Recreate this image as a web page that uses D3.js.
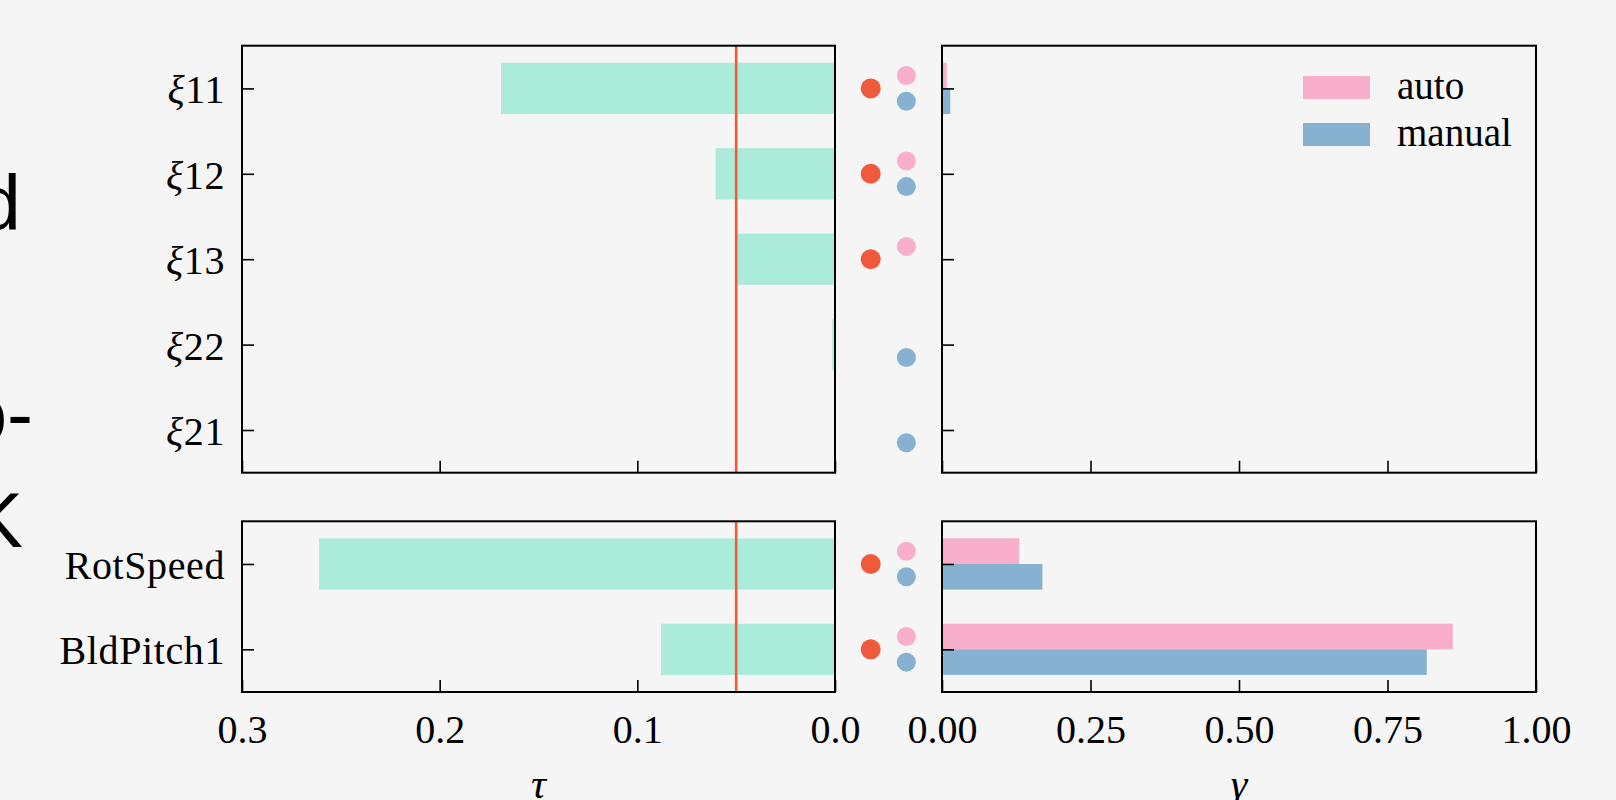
<!DOCTYPE html>
<html>
<head>
<meta charset="utf-8">
<script src="https://d3js.org/d3.v7.min.js"></script>
<style>
    body { margin: 0; background: #f5f5f5; }
    .tick text { font-family: "Liberation Serif", serif; font-size: 40px; fill: #000; }
    .tick line { stroke: #000; stroke-width: 1.6; }
</style>
</head>
<body>
<script>
//chart data
var topCats = ["ξ11", "ξ12", "ξ13", "ξ22", "ξ21"],
    bottomCats = ["RotSpeed", "BldPitch1"];

//tau values (left panels)
var tauTop = [0.169, 0.0604, 0.0505, 0.0014, 0.0005],
    tauBottom = [0.261, 0.088];

//gamma values (right panels)
var autoTop = [0.008, 0, 0, 0, 0],
    manualTop = [0.014, 0, 0, 0, 0],
    autoBottom = [0.130, 0.860],
    manualBottom = [0.169, 0.816];

//which rows get a marker dot
var sigTop = [1, 1, 1, 0, 0],
    sigBottom = [1, 1],
    autoDotTop = [1, 1, 1, 0, 0],
    autoDotBottom = [1, 1],
    manualDotTop = [1, 1, 0, 1, 1],
    manualDotBottom = [1, 1];

var threshold = 0.05;
var tauTicks = [0.3, 0.2, 0.1, 0.0],
    tauTickLabels = ["0.3", "0.2", "0.1", "0.0"],
    gammaTicks = [0, 0.25, 0.5, 0.75, 1],
    gammaTickLabels = ["0.00", "0.25", "0.50", "0.75", "1.00"];
var seriesNames = ["auto", "manual"];

//colours
var teal = "#abebd9", red = "#ef5a3c", pink = "#f9afcb", blue = "#86b1d1";

window.onload = setChart();

function setChart(){
    var width = 1616,
        height = 800;

    var svg = d3.select("body")
        .append("svg")
        .attr("width", width)
        .attr("height", height)
        .style("background", "#f5f5f5");

    //cut-off text at the far left edge (as in the source figure)
    var edgeText = [["d", 21, 230], ["o-", 33, 441], ["K", 23, 547]];
    svg.selectAll(".edge")
        .data(edgeText)
        .enter()
        .append("text")
        .attr("class", "edge")
        .attr("x", function(d){ return d[1]; })
        .attr("y", function(d){ return d[2]; })
        .attr("text-anchor", "end")
        .style("font-family", "'Liberation Sans', Arial, sans-serif")
        .style("font-size", "78px")
        .text(function(d){ return d[0]; });

    //scales
    var xTau = d3.scaleLinear().domain([0.3, 0]).range([242, 835]),
        xGamma = d3.scaleLinear().domain([0, 1]).range([942, 1536]);

    var yTop = d3.scaleLinear().domain([-0.5, 4.5]).range([45.7, 472.7]),
        yBottom = d3.scaleLinear().domain([-0.5, 1.5]).range([521.3, 692]);

    drawPanel(topCats, tauTop, autoTop, manualTop, sigTop, autoDotTop, manualDotTop, yTop, false);
    drawPanel(bottomCats, tauBottom, autoBottom, manualBottom, sigBottom, autoDotBottom, manualDotBottom, yBottom, true);

    //legend inside top right panel
    var legend = svg.append("g").attr("class", "legend");
    legend.selectAll("rect")
        .data(seriesNames)
        .enter()
        .append("rect")
        .attr("x", 1303)
        .attr("y", function(d, i){ return 76 + i * 47; })
        .attr("width", 67)
        .attr("height", 23)
        .attr("fill", function(d, i){ return i == 0 ? pink : blue; });
    legend.selectAll("text")
        .data(seriesNames)
        .enter()
        .append("text")
        .attr("x", 1397)
        .attr("y", function(d, i){ return 99 + i * 47; })
        .style("font-family", "'Liberation Serif', serif")
        .style("font-size", "39px")
        .text(function(d){ return d; });

    //axis titles
    svg.append("text")
        .attr("x", (xTau.range()[0] + xTau.range()[1]) / 2)
        .attr("y", 798)
        .attr("text-anchor", "middle")
        .style("font-family", "'Liberation Serif', serif")
        .style("font-size", "42px")
        .style("font-style", "italic")
        .text("τ");
    svg.append("text")
        .attr("x", (xGamma.range()[0] + xGamma.range()[1]) / 2)
        .attr("y", 798)
        .attr("text-anchor", "middle")
        .style("font-family", "'Liberation Serif', serif")
        .style("font-size", "42px")
        .style("font-style", "italic")
        .text("γ");

    function drawPanel(cats, tau, auto, manual, sig, autoDot, manualDot, y, showLabels){
        var y0 = y.range()[0], y1 = y.range()[1];
        var band = y(1) - y(0);
        var rows = cats.map(function(c, i){
            return {cat: c, i: i, tau: tau[i], auto: auto[i], manual: manual[i],
                    sig: sig[i], autoDot: autoDot[i], manualDot: manualDot[i]};
        });

        //left: tau bars
        var left = svg.append("g");
        left.selectAll(".tauBar")
            .data(rows)
            .enter()
            .append("rect")
            .attr("class", "tauBar")
            .attr("x", function(d){ return xTau(d.tau); })
            .attr("width", function(d){ return xTau(0) - xTau(d.tau); })
            .attr("y", function(d){ return y(d.i) - band * 0.3; })
            .attr("height", band * 0.6)
            .attr("fill", teal);

        //threshold line
        left.append("line")
            .attr("x1", xTau(threshold))
            .attr("x2", xTau(threshold))
            .attr("y1", y0)
            .attr("y2", y1)
            .attr("stroke", red)
            .attr("stroke-width", 2.6);

        var xAxisL = d3.axisBottom(xTau)
            .tickValues(tauTicks)
            .tickSize(-12)
            .tickPadding(23)
            .tickFormat(function(d, i){ return showLabels ? tauTickLabels[i] : ""; });
        left.append("g")
            .attr("transform", "translate(0," + y1 + ")")
            .call(xAxisL)
            .call(function(g){ g.select(".domain").remove(); });

        var yAxisL = d3.axisLeft(y)
            .tickValues(d3.range(cats.length))
            .tickSize(-12)
            .tickPadding(17)
            .tickFormat(function(d){ return cats[d]; });
        var gy = left.append("g")
            .attr("transform", "translate(" + xTau(0.3) + ",0)")
            .call(yAxisL)
            .call(function(g){ g.select(".domain").remove(); });
        gy.selectAll(".tick text").attr("dy", "0.36em")
            .style("letter-spacing", "0.6px")
            .each(function(d){
                var t = d3.select(this), label = cats[d];
                if(label.charAt(0) == "ξ"){
                    t.text("");
                    t.append("tspan").style("font-style", "italic").text("ξ");
                    t.append("tspan").text(label.slice(1));
                }
            });

        left.append("rect")
            .attr("x", xTau(0.3))
            .attr("y", y0)
            .attr("width", xTau(0) - xTau(0.3))
            .attr("height", y1 - y0)
            .attr("fill", "none")
            .attr("stroke", "#000")
            .attr("stroke-width", 2);

        //right: gamma bars
        var right = svg.append("g");
        right.selectAll(".autoBar")
            .data(rows)
            .enter()
            .append("rect")
            .attr("class", "autoBar")
            .attr("x", xGamma(0))
            .attr("width", function(d){ return xGamma(d.auto) - xGamma(0); })
            .attr("y", function(d){ return y(d.i) - band * 0.3; })
            .attr("height", band * 0.3)
            .attr("fill", pink);
        right.selectAll(".manualBar")
            .data(rows)
            .enter()
            .append("rect")
            .attr("class", "manualBar")
            .attr("x", xGamma(0))
            .attr("width", function(d){ return xGamma(d.manual) - xGamma(0); })
            .attr("y", function(d){ return y(d.i); })
            .attr("height", band * 0.3)
            .attr("fill", blue);

        var xAxisR = d3.axisBottom(xGamma)
            .tickValues(gammaTicks)
            .tickSize(-12)
            .tickPadding(23)
            .tickFormat(function(d, i){ return showLabels ? gammaTickLabels[i] : ""; });
        right.append("g")
            .attr("transform", "translate(0," + y1 + ")")
            .call(xAxisR)
            .call(function(g){ g.select(".domain").remove(); });

        var yAxisR = d3.axisLeft(y)
            .tickValues(d3.range(cats.length))
            .tickSize(-12)
            .tickFormat("");
        right.append("g")
            .attr("transform", "translate(" + xGamma(0) + ",0)")
            .call(yAxisR)
            .call(function(g){ g.select(".domain").remove(); });

        right.append("rect")
            .attr("x", xGamma(0))
            .attr("y", y0)
            .attr("width", xGamma(1) - xGamma(0))
            .attr("height", y1 - y0)
            .attr("fill", "none")
            .attr("stroke", "#000")
            .attr("stroke-width", 2);

        //marker dots between the panels (placed on the gamma scale, off axis)
        var dots = svg.append("g");
        dots.selectAll(".sigDot")
            .data(rows.filter(function(d){ return d.sig; }))
            .enter()
            .append("circle")
            .attr("cx", xGamma(-0.12))
            .attr("cy", function(d){ return y(d.i); })
            .attr("r", 10)
            .attr("fill", red);
        dots.selectAll(".autoDot")
            .data(rows.filter(function(d){ return d.autoDot; }))
            .enter()
            .append("circle")
            .attr("cx", xGamma(-0.06))
            .attr("cy", function(d){ return y(d.i) - band * 0.15; })
            .attr("r", 9.5)
            .attr("fill", pink);
        dots.selectAll(".manualDot")
            .data(rows.filter(function(d){ return d.manualDot; }))
            .enter()
            .append("circle")
            .attr("cx", xGamma(-0.06))
            .attr("cy", function(d){ return y(d.i) + band * 0.15; })
            .attr("r", 9.5)
            .attr("fill", blue);
    }
};
</script>
</body>
</html>
